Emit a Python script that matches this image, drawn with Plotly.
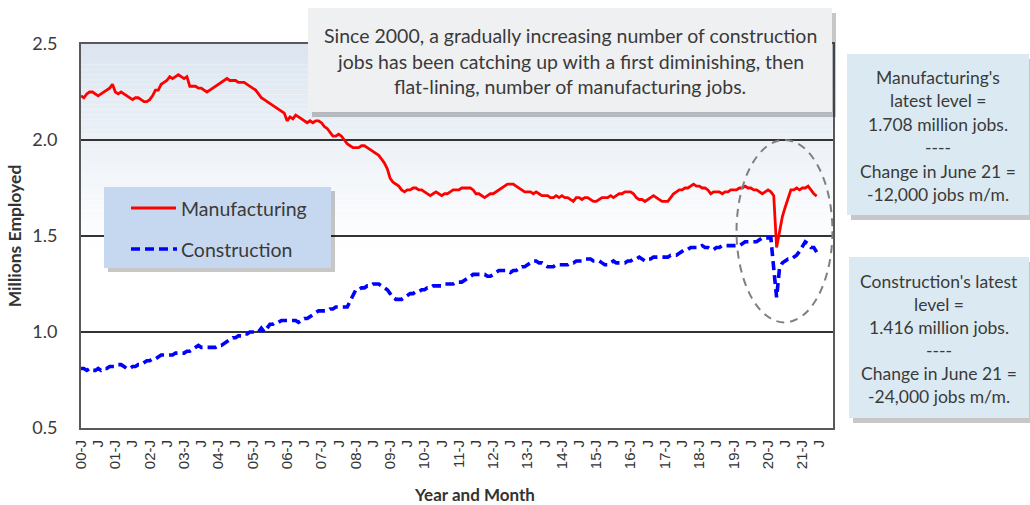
import plotly.graph_objects as go

# Monthly employment, millions, Jan 2000 - Jun 2021
manufacturing = [
    2.23, 2.22, 2.24, 2.25, 2.25, 2.24, 2.23, 2.24, 2.25, 2.26, 2.27, 2.29,  # 2000
    2.25, 2.24, 2.25, 2.24, 2.23, 2.22, 2.21, 2.22, 2.22, 2.21, 2.20, 2.20,  # 2001
    2.21, 2.23, 2.26, 2.26, 2.29, 2.30, 2.31, 2.33, 2.32, 2.33, 2.34, 2.33,  # 2002
    2.32, 2.33, 2.28, 2.28, 2.28, 2.27, 2.27, 2.26, 2.25, 2.26, 2.27, 2.28,  # 2003
    2.29, 2.30, 2.31, 2.32, 2.31, 2.31, 2.31, 2.30, 2.30, 2.30, 2.29, 2.28,  # 2004
    2.27, 2.26, 2.24, 2.22, 2.21, 2.20, 2.19, 2.18, 2.17, 2.16, 2.15, 2.14,  # 2005
    2.10, 2.12, 2.11, 2.13, 2.12, 2.11, 2.10, 2.09, 2.10, 2.09, 2.10, 2.10,  # 2006
    2.09, 2.07, 2.06, 2.04, 2.02, 2.02, 2.03, 2.02, 2.00, 1.98, 1.97, 1.96,  # 2007
    1.96, 1.96, 1.97, 1.97, 1.96, 1.95, 1.94, 1.93, 1.92, 1.90, 1.88, 1.85,  # 2008
    1.80, 1.78, 1.77, 1.76, 1.74, 1.73, 1.74, 1.74, 1.75, 1.75, 1.74, 1.74,  # 2009
    1.73, 1.72, 1.71, 1.72, 1.73, 1.72, 1.71, 1.72, 1.72, 1.73, 1.74, 1.74,  # 2010
    1.74, 1.75, 1.75, 1.75, 1.75, 1.74, 1.72, 1.72, 1.71, 1.70, 1.71, 1.72,  # 2011
    1.72, 1.73, 1.74, 1.75, 1.76, 1.77, 1.77, 1.77, 1.76, 1.75, 1.74, 1.73,  # 2012
    1.73, 1.73, 1.72, 1.73, 1.72, 1.71, 1.71, 1.71, 1.70, 1.70, 1.71, 1.70,  # 2013
    1.71, 1.70, 1.70, 1.69, 1.68, 1.70, 1.70, 1.69, 1.70, 1.70, 1.69, 1.68,  # 2014
    1.68, 1.69, 1.70, 1.70, 1.70, 1.71, 1.70, 1.71, 1.72, 1.72, 1.73, 1.73,  # 2015
    1.73, 1.72, 1.70, 1.69, 1.69, 1.68, 1.69, 1.70, 1.71, 1.70, 1.69, 1.68,  # 2016
    1.68, 1.68, 1.70, 1.72, 1.73, 1.74, 1.74, 1.75, 1.75, 1.76, 1.77, 1.76,  # 2017
    1.76, 1.75, 1.75, 1.74, 1.72, 1.73, 1.73, 1.73, 1.72, 1.73, 1.73, 1.74,  # 2018
    1.74, 1.74, 1.75, 1.75, 1.76, 1.75, 1.75, 1.74, 1.74, 1.73, 1.72, 1.73,  # 2019
    1.74, 1.73, 1.71, 1.44, 1.52, 1.60, 1.65, 1.69, 1.74, 1.74, 1.75, 1.74,  # 2020
    1.75, 1.75, 1.76, 1.74, 1.72, 1.708,                                    # 2021
]

construction = [
    0.81, 0.81, 0.80, 0.81, 0.80, 0.80, 0.81, 0.80, 0.81, 0.81, 0.82, 0.82,  # 2000
    0.82, 0.83, 0.83, 0.82, 0.81, 0.81, 0.82, 0.82, 0.83, 0.83, 0.84, 0.85,  # 2001
    0.85, 0.86, 0.86, 0.87, 0.88, 0.88, 0.88, 0.88, 0.88, 0.89, 0.89, 0.89,  # 2002
    0.89, 0.90, 0.90, 0.91, 0.92, 0.93, 0.92, 0.92, 0.92, 0.92, 0.92, 0.92,  # 2003
    0.93, 0.93, 0.94, 0.95, 0.96, 0.97, 0.97, 0.98, 0.98, 0.99, 0.99, 1.00,  # 2004
    1.00, 1.00, 1.00, 1.02, 1.00, 1.02, 1.04, 1.04, 1.05, 1.05, 1.06, 1.06,  # 2005
    1.06, 1.06, 1.06, 1.06, 1.05, 1.06, 1.07, 1.07, 1.08, 1.09, 1.10, 1.11,  # 2006
    1.11, 1.11, 1.11, 1.12, 1.12, 1.13, 1.13, 1.13, 1.13, 1.13, 1.16, 1.19,  # 2007
    1.22, 1.22, 1.23, 1.23, 1.24, 1.24, 1.25, 1.25, 1.25, 1.24, 1.23, 1.22,  # 2008
    1.20, 1.18, 1.17, 1.17, 1.17, 1.18, 1.19, 1.20, 1.20, 1.21, 1.21, 1.22,  # 2009
    1.22, 1.23, 1.23, 1.24, 1.24, 1.24, 1.24, 1.25, 1.25, 1.25, 1.25, 1.26,  # 2010
    1.26, 1.26, 1.27, 1.28, 1.29, 1.30, 1.30, 1.30, 1.30, 1.30, 1.29, 1.29,  # 2011
    1.30, 1.31, 1.32, 1.32, 1.32, 1.32, 1.31, 1.32, 1.32, 1.33, 1.34, 1.34,  # 2012
    1.35, 1.36, 1.37, 1.37, 1.36, 1.36, 1.35, 1.34, 1.34, 1.34, 1.35, 1.35,  # 2013
    1.35, 1.35, 1.35, 1.36, 1.36, 1.37, 1.37, 1.37, 1.38, 1.38, 1.38, 1.37,  # 2014
    1.37, 1.37, 1.36, 1.35, 1.35, 1.36, 1.37, 1.36, 1.36, 1.36, 1.36, 1.37,  # 2015
    1.37, 1.38, 1.38, 1.39, 1.38, 1.37, 1.38, 1.38, 1.39, 1.39, 1.39, 1.39,  # 2016
    1.39, 1.39, 1.40, 1.40, 1.40, 1.41, 1.42, 1.43, 1.43, 1.44, 1.44, 1.44,  # 2017
    1.44, 1.45, 1.44, 1.44, 1.43, 1.43, 1.44, 1.44, 1.45, 1.45, 1.45, 1.45,  # 2018
    1.45, 1.45, 1.45, 1.46, 1.47, 1.47, 1.47, 1.47, 1.47, 1.48, 1.49, 1.49,  # 2019
    1.49, 1.49, 1.33, 1.18, 1.33, 1.36, 1.37, 1.38, 1.38, 1.39, 1.40, 1.42,  # 2020
    1.45, 1.47, 1.46, 1.44, 1.44, 1.416,                                    # 2021
]

tick_labels = [
    "00-J", "J", "01-J", "J", "02-J", "J", "03-J", "J", "04-J", "J", "05-J", "J",
    "06-J", "J", "07-J", "J", "08-J", "J", "09-J", "J", "10-J", "J", "11-J", "J",
    "12-J", "J", "13-J", "J", "14-J", "J", "15-J", "J", "16-J", "J", "17-J", "J",
    "18-J", "J", "19-J", "J", "20-J", "J", "21-J", "J",
]
y_ticks = [0.5, 1.0, 1.5, 2.0, 2.5]

note_top = [
    "Since 2000, a gradually increasing number of construction",
    "jobs has been catching up with a first diminishing, then",
    "flat-lining, number of manufacturing jobs.",
]
note_mfg = ["Manufacturing's", "latest level =", "1.708 million jobs.", "----",
            "Change in June 21 =", "-12,000 jobs m/m."]
note_con = ["Construction's latest", "level =", "1.416 million jobs.", "----",
            "Change in June 21 =", "-24,000 jobs m/m."]

FONT = "Lato, 'Open Sans', sans-serif"
TEXT = "#3a3a3a"

# plot area in pixels
L, R, T, B = 81, 833, 44, 428


def px(x):
    return (x - L) / (R - L)


def py(y):
    return (B - y) / (B - T)


months = list(range(len(manufacturing)))

fig = go.Figure()
fig.add_trace(go.Scatter(x=months, y=manufacturing, mode="lines", name="Manufacturing",
                         line=dict(color="#ff0000", width=2.8)))
fig.add_trace(go.Scatter(x=months, y=construction, mode="lines", name="Construction",
                         line=dict(color="#0000ff", width=3.6, dash="9px,5px")))

shapes = []
annotations = []

# soft gradient in the upper part of the plot area
top_rgb = (220, 229, 240)
n_bands = 40
for i in range(n_bands):
    f = i / n_bands
    c = tuple(int(round(top_rgb[k] + (255 - top_rgb[k]) * f)) for k in range(3))
    y1 = 2.5 - 1.05 * i / n_bands
    y0 = 2.5 - 1.05 * (i + 1) / n_bands
    shapes.append(dict(type="rect", xref="paper", yref="y", x0=0, x1=1, y0=y0, y1=y1,
                       fillcolor="rgb(%d,%d,%d)" % c, line=dict(width=0), layer="below"))


def text_box(x0, y0, x1, y1, fill, lines, first_y, step, size):
    shapes.append(dict(type="rect", xref="paper", yref="paper",
                       x0=px(x0 + 4), x1=px(x1 + 4), y0=py(y1 + 5), y1=py(y0 + 5),
                       fillcolor="rgba(0,0,0,0.22)", line=dict(width=0), layer="above"))
    shapes.append(dict(type="rect", xref="paper", yref="paper",
                       x0=px(x0), x1=px(x1), y0=py(y1), y1=py(y0),
                       fillcolor=fill, line=dict(width=0), layer="above"))
    for i, s in enumerate(lines):
        annotations.append(dict(text=s, xref="paper", yref="paper", x=px((x0 + x1) / 2),
                                y=py(first_y + i * step), xanchor="center", yanchor="middle",
                                showarrow=False, font=dict(family=FONT, size=size, color=TEXT)))


text_box(308, 8, 832, 112, "#eff0f2", note_top, 35, 26, 19.5)
text_box(847, 54, 1029, 215, "#dbeaf2", note_mfg, 77, 23.5, 17.5)
text_box(849, 257, 1029, 418, "#dbeaf2", note_con, 281, 23, 17.5)

# legend box
shapes.append(dict(type="rect", xref="paper", yref="paper", x0=px(108), x1=px(335),
                   y0=py(272), y1=py(191), fillcolor="rgba(0,0,0,0.22)", line=dict(width=0)))
shapes.append(dict(type="rect", xref="paper", yref="paper", x0=px(104), x1=px(331),
                   y0=py(268), y1=py(187), fillcolor="#c6d8ef", line=dict(width=0)))
shapes.append(dict(type="line", xref="paper", yref="paper", x0=px(131), x1=px(176),
                   y0=py(208), y1=py(208), line=dict(color="#ff0000", width=2.8)))
shapes.append(dict(type="line", xref="paper", yref="paper", x0=px(131), x1=px(177),
                   y0=py(249), y1=py(249), line=dict(color="#0000ff", width=3.6, dash="9px,5px")))
for label, yy in (("Manufacturing", 208), ("Construction", 249)):
    annotations.append(dict(text=label, xref="paper", yref="paper", x=px(179), y=py(yy),
                            xanchor="left", yanchor="middle", showarrow=False,
                            font=dict(family=FONT, size=19.5, color=TEXT)))

# dashed ellipse round the 2020 dip
shapes.append(dict(type="circle", xref="x", yref="y", x0=229, x1=262.5, y0=1.05, y1=2.0,
                   line=dict(color="#808080", width=2, dash="8px,6px")))

annotations.append(dict(text="<b>Year and Month</b>", xref="paper", yref="paper",
                        x=px(474), y=py(494), xanchor="center", yanchor="middle",
                        showarrow=False, font=dict(family=FONT, size=17, color="#333333")))

fig.update_layout(
    width=1030, height=505,
    margin=dict(l=L, r=1030 - R, t=T, b=505 - B),
    paper_bgcolor="white", plot_bgcolor="white",
    showlegend=False,
    shapes=shapes, annotations=annotations,
)
fig.update_xaxes(
    range=[0, 262.7], tickvals=[6 * i for i in range(len(tick_labels))], ticktext=tick_labels,
    tickangle=-90, tickfont=dict(family="'Liberation Sans', Arial, sans-serif", size=15, color="#333333"),
    showgrid=False, zeroline=False, showline=True, linecolor="#595959", linewidth=2, mirror=True,
    ticks="", ticklabelstandoff=4,
)
fig.update_yaxes(
    range=[0.5, 2.5], tickvals=y_ticks, tickformat=".1f",
    tickfont=dict(family=FONT, size=18, color="#3a3a3a"),
    showgrid=True, gridcolor="#333333", gridwidth=1.5, zeroline=False,
    showline=True, linecolor="#595959", linewidth=2, mirror=True, ticks="", ticklabelstandoff=18,
    title=dict(text="<b>Millions Employed</b>", font=dict(family=FONT, size=17.5, color="#333333"),
               standoff=6),
)

fig.write_html("out.html", config={"displayModeBar": False},
               post_script="document.body.style.margin='0';")
